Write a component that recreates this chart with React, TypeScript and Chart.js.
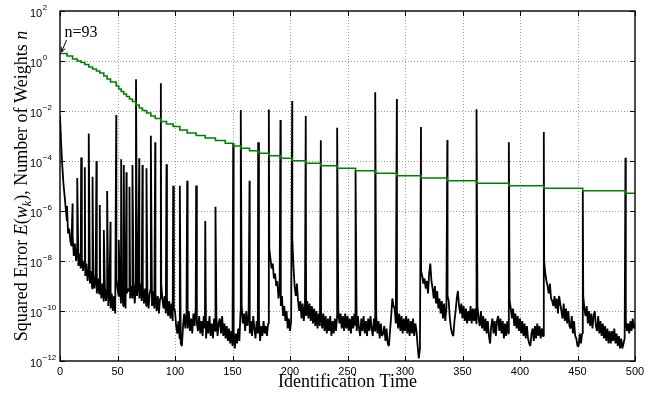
import React, { useEffect, useRef } from 'react';
import { Chart, registerables } from 'chart.js';

Chart.register(...registerables);

// ---- axis definitions ----
const xTickValues = [0, 50, 100, 150, 200, 250, 300, 350, 400, 450, 500];
const yTickExponents = [2, 0, -2, -4, -6, -8, -10, -12];
const xTitle = 'Identification Time';
const annotationText = 'n=93';

// ---- squared error E(w_k): log10 value at each identification time 0..500 ----
const errorLog = [
  -2.2, -3.3, -4.2, -4.9, -5.4, -5.9, -6.4, -6.9, -6.7, -7.2,
  -7.4, -7.0, -7.8, -7.3, -8.0, -7.5, -8.2, -7.7, -8.3, -7.9,
  -8.4, -8.0, -8.6, -8.1, -8.8, -8.3, -8.9, -8.4, -9.1, -8.5,
  -9.1, -8.6, -9.3, -8.7, -9.3, -8.8, -9.5, -8.9, -9.6, -9.0,
  -9.6, -9.1, -9.8, -9.2, -9.9, -9.3, -10.0, -9.4, -10.1, -8.7,
  -9.1, -9.4, -9.0, -9.7, -9.1, -9.8, -9.2, -9.9, -9.3, -9.1,
  -9.2, -9.5, -9.0, -9.5, -8.9, -9.7, -8.8, -9.4, -8.8, -9.5,
  -8.9, -9.6, -9.0, -9.7, -9.1, -9.8, -9.2, -9.9, -9.3, -9.1,
  -9.8, -9.2, -9.9, -9.3, -10.0, -9.4, -10.1, -9.5, -8.9, -9.5,
  -9.9, -9.4, -10.1, -9.5, -10.2, -9.6, -10.3, -9.7, -10.4, -9.9,
  -10.0, -10.6, -10.9, -10.4, -11.1, -11.3, -11.4, -10.6, -10.1, -10.7,
  -10.1, -10.7, -10.0, -10.8, -10.3, -10.9, -10.1, -10.6, -9.9, -10.5,
  -10.8, -10.2, -10.9, -10.4, -11.0, -10.2, -10.7, -11.1, -10.4, -10.9,
  -10.2, -11.0, -10.5, -11.1, -10.3, -10.8, -10.2, -11.0, -10.5, -10.3,
  -10.9, -10.2, -11.0, -10.5, -11.1, -10.6, -11.2, -10.7, -11.3, -10.8,
  -11.4, -10.8, -11.5, -10.9, -11.3, -10.7, -11.2, -10.0, -9.8, -10.5,
  -10.1, -10.8, -10.0, -10.6, -10.2, -10.9, -10.4, -11.0, -10.2, -10.7,
  -11.1, -10.4, -10.9, -10.3, -11.2, -10.6, -11.0, -10.4, -10.9, -10.6,
  -11.0, -10.5, -7.5, -7.9, -8.3, -8.1, -8.7, -8.5, -9.0, -8.8,
  -9.5, -9.1, -9.8, -9.4, -10.2, -9.8, -10.4, -10.0, -10.7, -10.3,
  -10.8, -10.4, -7.1, -8.2, -9.0, -9.4, -8.9, -9.6, -10.0, -9.6,
  -10.3, -9.7, -10.4, -9.8, -10.2, -9.6, -10.3, -9.7, -10.4, -9.8,
  -10.5, -9.9, -10.6, -10.0, -10.7, -10.1, -10.6, -10.0, -10.7, -10.1,
  -10.8, -10.2, -10.9, -10.3, -10.8, -10.2, -11.0, -10.4, -10.9, -10.3,
  -10.8, -10.2, -10.0, -10.5, -10.1, -10.7, -10.2, -10.8, -10.1, -10.7,
  -10.2, -10.8, -10.3, -10.9, -10.2, -10.7, -10.1, -10.6, -10.8, -10.2,
  -10.7, -11.0, -10.3, -10.8, -10.2, -10.9, -10.4, -11.0, -10.3, -10.8,
  -10.2, -10.7, -11.0, -10.3, -10.8, -10.2, -10.9, -10.4, -11.1, -10.5,
  -11.0, -10.9, -10.6, -11.2, -10.7, -11.3, -11.4, -10.8, -10.2, -9.5,
  -9.8, -9.9, -10.5, -10.0, -10.7, -10.1, -10.8, -10.2, -10.9, -10.3,
  -10.8, -10.2, -10.9, -10.3, -11.0, -10.4, -10.9, -10.3, -11.0, -10.5,
  -10.8, -11.4, -11.9, -11.5, -8.4, -8.6, -8.9, -8.7, -9.1, -8.8,
  -9.3, -8.5, -8.1, -8.8, -9.1, -9.5, -9.0, -9.7, -9.2, -9.9,
  -9.5, -10.1, -9.6, -10.3, -9.7, -10.4, -9.9, -9.4, -9.6, -10.3,
  -10.7, -10.9, -11.0, -10.4, -10.0, -9.5, -9.2, -9.8, -10.1, -9.7,
  -10.3, -9.8, -10.4, -9.9, -10.5, -10.0, -10.4, -9.8, -10.5, -9.9,
  -10.4, -9.9, -10.5, -9.8, -10.3, -10.6, -10.0, -10.7, -10.2, -10.8,
  -10.3, -10.9, -10.4, -11.0, -11.3, -10.6, -10.3, -10.9, -10.4, -11.0,
  -10.4, -10.2, -10.8, -10.3, -10.9, -10.4, -11.1, -10.5, -11.0, -10.4,
  -10.9, -9.6, -9.9, -10.3, -9.9, -10.6, -10.1, -10.7, -10.2, -10.8,
  -10.3, -10.9, -10.4, -11.0, -10.5, -11.1, -10.6, -11.1, -11.3, -11.4,
  -10.9, -10.7, -11.2, -10.6, -11.1, -10.5, -11.0, -10.6, -11.1, -10.7,
  -11.0, -8.0, -8.5, -8.8, -9.0, -9.3, -8.9, -9.5, -9.6, -9.8,
  -9.4, -9.9, -9.5, -10.1, -9.4, -9.7, -10.0, -10.3, -9.7, -10.4,
  -9.9, -10.5, -10.0, -10.6, -10.7, -10.2, -10.9, -10.4, -11.0, -11.1,
  -11.4, -11.4, -10.9, -11.3, -10.9, -9.4, -9.9, -10.2, -9.8, -10.5,
  -10.0, -10.6, -10.1, -10.7, -10.2, -10.0, -10.6, -10.8, -10.2, -10.9,
  -10.4, -11.0, -10.5, -11.1, -10.6, -11.2, -10.7, -11.3, -10.8, -11.3,
  -10.8, -11.2, -10.7, -11.3, -10.9, -11.4, -11.0, -11.5, -11.1, -11.5,
  -11.3, -11.1, -10.4, -10.8, -10.5, -10.9, -10.4, -10.8, -10.3, -10.7,
  -10.5,
];

// ---- error spikes at pruning instants: time and log10 peak ----
const spikeTimes = [
  6.1, 10.9, 15.0, 18.4, 21.6, 25.0, 28.3, 31.7, 34.6, 38.1,
  41.0, 43.9, 48.9, 51.1, 53.2, 55.5, 57.8, 60.4, 63.0, 66.1,
  68.9, 71.7, 75.2, 79.0, 82.8, 87.7, 92.6, 98.4, 104.2, 110.6,
  118.4, 126.3, 135.2, 150.6, 157.2, 164.8, 172.3, 181.6, 191.7, 201.9,
  213.7, 226.8, 241.0, 257.0, 274.1, 292.9, 313.9, 336.8, 362.2, 390.3,
  420.7, 454.6, 491.7,
];
const spikeLogs = [
  -5.8, -5.7, -4.68, -3.86, -4.25, -2.9, -4.63, -4.0, -5.76, -6.76,
  -5.2, -6.43, -2.16, -7.16, -3.93, -4.16, -4.45, -5.03, -4.16, -0.73,
  -3.89, -4.16, -4.29, -2.99, -3.25, -0.89, -4.13, -4.99, -4.99, -4.79,
  -4.98, -6.4, -5.83, -3.29, -1.96, -4.79, -3.25, -1.94, -2.36, -1.6,
  -2.2, -3.17, -2.67, -4.38, -1.25, -1.52, -2.64, -3.16, -1.93, -3.25,
  -2.84, -5.19, -3.87,
];

// ---- number of weights n (plotted on same log axis): step times and log10 levels ----
const weightStepTimes = [
  0, 6.1, 10.9, 15.0, 18.4, 21.6, 25.0, 28.3, 31.7, 34.6,
  38.1, 41.0, 43.9, 48.9, 51.1, 53.2, 55.5, 57.8, 60.4, 63.0,
  66.1, 68.9, 71.7, 75.2, 79.0, 82.8, 87.7, 92.6, 98.4, 104.2,
  110.6, 118.4, 126.3, 135.2, 143.7, 150.6, 157.2, 164.8, 172.3, 181.6,
  191.7, 201.9, 213.7, 226.8, 241.0, 257.0, 274.1, 292.9, 313.9, 336.8,
  362.2, 390.3, 420.7, 454.6, 491.7, 500,
];
const weightStepLogs = [
  0.30, 0.20, 0.08, 0.00, -0.06, -0.14, -0.24, -0.32, -0.40, -0.48,
  -0.60, -0.72, -0.84, -1.00, -1.12, -1.22, -1.32, -1.42, -1.52, -1.62,
  -1.76, -1.88, -1.98, -2.08, -2.20, -2.30, -2.42, -2.52, -2.62, -2.76,
  -2.88, -2.98, -3.08, -3.18, -3.29, -3.40, -3.49, -3.59, -3.69, -3.79,
  -3.89, -3.99, -4.09, -4.19, -4.29, -4.39, -4.49, -4.59, -4.68, -4.79,
  -4.89, -4.99, -5.09, -5.19, -5.29, -5.29,
];

const SANS = '"Liberation Sans", Arial, Helvetica, sans-serif';
const SERIF = '"Liberation Serif", "Times New Roman", serif';

const framePlugin = {
  id: 'matlabFrame',
  beforeDatasetsDraw(chart: any) {
    const { ctx, chartArea: a, scales } = chart;
    const xs = scales.x;
    const ys = scales.y;
    ctx.save();
    ctx.strokeStyle = '#9a9a9a';
    ctx.lineWidth = 1;
    ctx.setLineDash([1, 2]);
    xTickValues.forEach((v) => {
      if (v === xs.min || v === xs.max) return;
      const px = Math.round(xs.getPixelForValue(v)) + 0.5;
      ctx.beginPath();
      ctx.moveTo(px, a.top);
      ctx.lineTo(px, a.bottom);
      ctx.stroke();
    });
    yTickExponents.forEach((e) => {
      const val = Math.pow(10, e);
      if (val <= ys.min * 1.0001 || val >= ys.max * 0.9999) return;
      const py = Math.round(ys.getPixelForValue(val)) + 0.5;
      ctx.beginPath();
      ctx.moveTo(a.left, py);
      ctx.lineTo(a.right, py);
      ctx.stroke();
    });
    ctx.restore();
  },
  afterDatasetsDraw(chart: any) {
    const { ctx, chartArea: a, scales } = chart;
    const xs = scales.x;
    const ys = scales.y;
    ctx.save();
    ctx.setLineDash([]);
    ctx.strokeStyle = '#000';
    ctx.fillStyle = '#000';

    // frame
    ctx.lineWidth = 1.4;
    ctx.strokeRect(a.left, a.top, a.right - a.left, a.bottom - a.top);

    // ticks (inward, all four sides)
    const tl = 5;
    ctx.lineWidth = 1;
    xTickValues.forEach((v) => {
      const px = Math.round(xs.getPixelForValue(v)) + 0.5;
      ctx.beginPath();
      ctx.moveTo(px, a.bottom);
      ctx.lineTo(px, a.bottom - tl);
      ctx.moveTo(px, a.top);
      ctx.lineTo(px, a.top + tl);
      ctx.stroke();
    });
    yTickExponents.forEach((e) => {
      const py = Math.round(ys.getPixelForValue(Math.pow(10, e))) + 0.5;
      ctx.beginPath();
      ctx.moveTo(a.left, py);
      ctx.lineTo(a.left + tl, py);
      ctx.moveTo(a.right, py);
      ctx.lineTo(a.right - tl, py);
      ctx.stroke();
    });

    // x tick labels
    ctx.font = `11px ${SANS}`;
    ctx.textAlign = 'center';
    ctx.textBaseline = 'alphabetic';
    xTickValues.forEach((v) => {
      const px = xs.getPixelForValue(v);
      ctx.fillText(String(v), px, a.bottom + 14);
    });

    // y tick labels 10^e
    ctx.textAlign = 'left';
    yTickExponents.forEach((e) => {
      const py = ys.getPixelForValue(Math.pow(10, e));
      const x0 = 30;
      ctx.font = `11px ${SANS}`;
      ctx.fillText('10', x0, py + 5.5);
      const w = ctx.measureText('10').width;
      ctx.font = `8px ${SANS}`;
      const sup = e < 0 ? '\u2212' + String(-e) : String(e);
      ctx.fillText(sup, x0 + w + 0.5, py - 1.5);
    });

    // x axis title
    ctx.font = `18px ${SERIF}`;
    ctx.textAlign = 'center';
    ctx.fillText(xTitle, (a.left + a.right) / 2, 387);

    // y axis title (rotated, with math italics)
    const segs: { t: string; f: string; dy: number }[] = [
      { t: 'Squared Error ', f: `18px ${SERIF}`, dy: 0 },
      { t: 'E', f: `italic 18px ${SERIF}`, dy: 0 },
      { t: '(', f: `18px ${SERIF}`, dy: 0 },
      { t: 'w', f: `italic 18px ${SERIF}`, dy: 0 },
      { t: 'k', f: `italic 12px ${SERIF}`, dy: 4 },
      { t: '), Number of Weights ', f: `18px ${SERIF}`, dy: 0 },
      { t: 'n', f: `italic 18px ${SERIF}`, dy: 0 },
    ];
    let total = 0;
    const widths = segs.map((s) => {
      ctx.font = s.f;
      const w = ctx.measureText(s.t).width;
      total += w;
      return w;
    });
    ctx.save();
    ctx.translate(26.5, (a.top + a.bottom) / 2);
    ctx.rotate(-Math.PI / 2);
    ctx.textAlign = 'left';
    let cx = -total / 2;
    segs.forEach((s, i) => {
      ctx.font = s.f;
      ctx.fillText(s.t, cx, s.dy);
      cx += widths[i];
    });
    ctx.restore();

    // annotation n=93 with arrow to the first weight count
    const tipX = xs.getPixelForValue(weightStepTimes[0]) + 1.5;
    const tipY = ys.getPixelForValue(Math.pow(10, weightStepLogs[0])) - 1.5;
    ctx.font = `16px ${SERIF}`;
    ctx.textAlign = 'left';
    ctx.fillText(annotationText, tipX + 3, tipY - 15);
    const sx = tipX + 5;
    const sy = tipY - 12;
    ctx.lineWidth = 1;
    ctx.beginPath();
    ctx.moveTo(sx, sy);
    ctx.lineTo(tipX, tipY);
    ctx.stroke();
    const ang = Math.atan2(tipY - sy, tipX - sx);
    const hl = 5;
    ctx.beginPath();
    ctx.moveTo(tipX - hl * Math.cos(ang - 0.45), tipY - hl * Math.sin(ang - 0.45));
    ctx.lineTo(tipX, tipY);
    ctx.lineTo(tipX - hl * Math.cos(ang + 0.45), tipY - hl * Math.sin(ang + 0.45));
    ctx.stroke();

    ctx.restore();
  },
};

export default function App() {
  const ref = useRef<HTMLCanvasElement>(null);
  useEffect(() => {
    const canvas = ref.current;
    if (!canvas) return;
    const errorPts = errorLog.map((v, i) => ({ x: i, y: Math.pow(10, v) }));
    spikeTimes.forEach((t, i) => errorPts.push({ x: t, y: Math.pow(10, spikeLogs[i]) }));
    errorPts.sort((p, q) => p.x - q.x);
    const weightPts = weightStepTimes.map((t, i) => ({ x: t, y: Math.pow(10, weightStepLogs[i]) }));

    const chart = new Chart(canvas, {
      type: 'line',
      data: {
        datasets: [
          {
            label: 'Number of Weights',
            data: weightPts,
            borderColor: '#008000',
            borderWidth: 1.6,
            pointRadius: 0,
            stepped: true,
            fill: false,
            order: 0,
          },
          {
            label: 'Squared Error',
            data: errorPts,
            borderColor: '#000000',
            borderWidth: 1.8,
            borderJoinStyle: 'bevel',
            pointRadius: 0,
            tension: 0,
            fill: false,
            order: 1,
          },
        ],
      },
      options: {
        animation: false,
        responsive: false,
        devicePixelRatio: 1,
        events: [],
        layout: { padding: { left: 60, right: 30, top: 11, bottom: 33 } },
        plugins: { legend: { display: false }, tooltip: { enabled: false } },
        scales: {
          x: { type: 'linear', min: 0, max: 500, display: false },
          y: { type: 'logarithmic', min: 1e-12, max: 1e2, display: false },
        },
      } as any,
      plugins: [framePlugin],
    });
    return () => chart.destroy();
  }, []);

  return (
    <div style={{ position: 'fixed', left: 0, top: 0, width: 665, height: 394, background: '#fff' }}>
      <canvas ref={ref} width={665} height={394} style={{ display: 'block' }} />
    </div>
  );
}
